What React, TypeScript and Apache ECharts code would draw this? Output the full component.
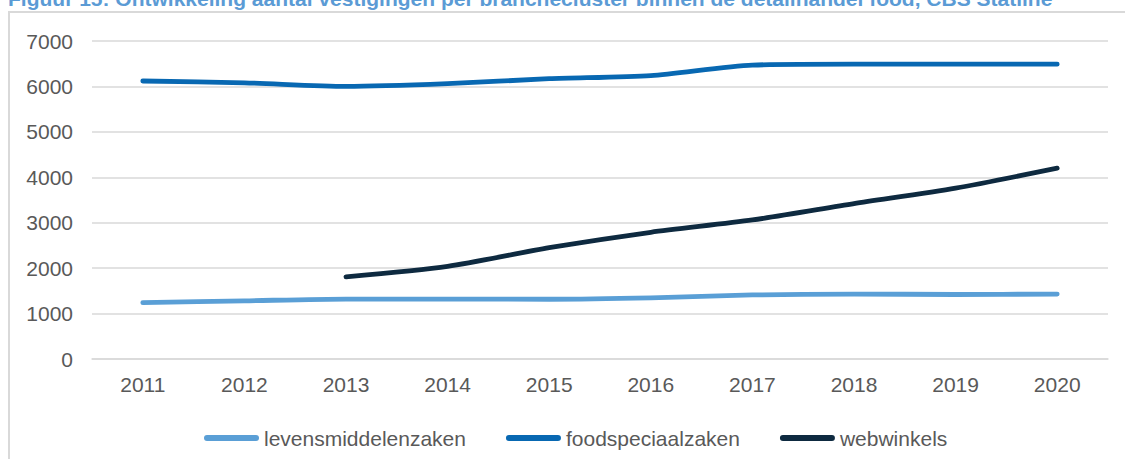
import React, { useEffect, useRef } from "react";
import * as echarts from "echarts";

const years = ["2011", "2012", "2013", "2014", "2015", "2016", "2017", "2018", "2019", "2020"];
const levensmiddelenzaken = [1240, 1280, 1320, 1320, 1315, 1345, 1410, 1430, 1420, 1430];
const foodspeciaalzaken = [6120, 6080, 6000, 6060, 6170, 6240, 6470, 6490, 6490, 6490];
const webwinkels = [null, null, 1810, 2040, 2450, 2790, 3060, 3420, 3760, 4200];
const seriesNames = ["levensmiddelenzaken", "foodspeciaalzaken", "webwinkels"];
const seriesColors = ["#5A9FD6", "#0868B2", "#0E2A40"];
const titleText =
  "Figuur 15: Ontwikkeling aantal vestigingen per branchecluster binnen de detailhandel food, CBS Statline";

const FONT = "'Liberation Sans', Arial, Helvetica, sans-serif";

export default function App() {
  const ref = useRef<HTMLDivElement>(null);
  useEffect(() => {
    if (!ref.current) return;
    const chart = echarts.init(ref.current, undefined, { renderer: "svg" });
    const dataSets = [levensmiddelenzaken, foodspeciaalzaken, webwinkels];
    const capsule = "path://M3,0 L52,0 A3,3 0 0 1 52,6 L3,6 A3,3 0 0 1 3,0 Z";
    chart.setOption({
      animation: false,
      backgroundColor: "#ffffff",
      textStyle: { fontFamily: FONT },
      graphic: [
        {
          type: "rect",
          shape: { x: 9, y: 12, width: 1300, height: 600 },
          style: { fill: "none", stroke: "#D9D9D9", lineWidth: 2 },
          silent: true,
          z: 0,
        },
        {
          type: "text",
          x: 8,
          y: -1.3,
          style: {
            text: titleText,
            fill: "#5B9BD5",
            font: `bold 21px ${FONT}`,
            align: "left",
            verticalAlign: "middle",
          },
          z: 10,
        },
      ],
      grid: { left: 92, right: 17, top: 41, bottom: 100, containLabel: false },
      legend: {
        left: 199,
        top: 422,
        itemWidth: 55,
        itemHeight: 6,
        itemGap: 40,
        icon: capsule,
        textStyle: { fontSize: 21, color: "#595959", fontFamily: FONT, lineHeight: 22 },
        data: seriesNames,
      },
      xAxis: {
        type: "category",
        data: years,
        boundaryGap: true,
        axisLine: { show: true, lineStyle: { color: "#D9D9D9", width: 1.5 } },
        axisTick: { show: false },
        axisLabel: { fontSize: 21, color: "#595959", margin: 15, fontFamily: FONT },
      },
      yAxis: {
        type: "value",
        min: 0,
        max: 7000,
        interval: 1000,
        axisLine: { show: false },
        axisTick: { show: false },
        axisLabel: {
          fontSize: 21,
          color: "#595959",
          margin: 19,
          fontFamily: FONT,
          formatter: (v: number) => String(v),
        },
        splitLine: { lineStyle: { color: "#D9D9D9", width: 1.5 } },
      },
      series: seriesNames.map((name, i) => ({
        name,
        type: "line",
        data: dataSets[i],
        smooth: 0.25,
        symbol: "none",
        showSymbol: false,
        connectNulls: false,
        color: seriesColors[i],
        itemStyle: { color: seriesColors[i] },
        lineStyle: { color: seriesColors[i], width: 4.8, cap: "round", join: "round" },
        z: 3,
      })),
    });
    return () => chart.dispose();
  }, []);
  return (
    <div
      ref={ref}
      style={{ position: "fixed", left: 0, top: 0, width: 1125, height: 459 }}
    />
  );
}
